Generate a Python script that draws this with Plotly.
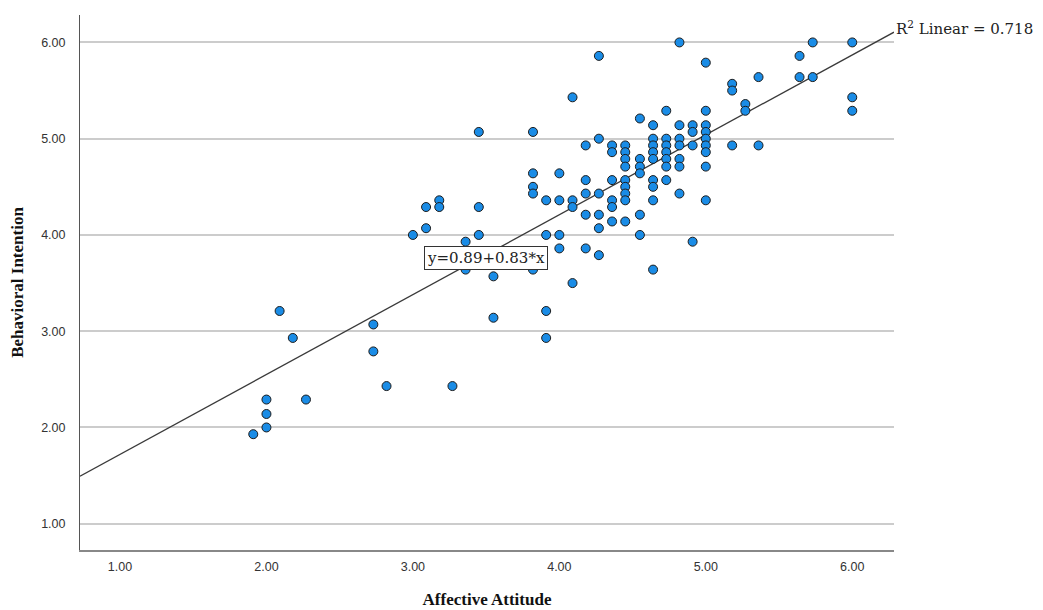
import plotly.graph_objects as go

# Affective Attitude (x) and Behavioral Intention (y)
affective = [
    1.91,
    2.00, 2.00, 2.00,
    2.09, 2.18, 2.27,
    2.73, 2.73, 2.82,
    3.00, 3.09, 3.09, 3.18, 3.18, 3.27,
    3.36, 3.36,
    3.45, 3.45, 3.45,
    3.55, 3.55,
    3.82, 3.82, 3.82, 3.82, 3.82,
    3.91, 3.91, 3.91, 3.91,
    4.00, 4.00, 4.00, 4.00,
    4.09, 4.09, 4.09, 4.09,
    4.18, 4.18, 4.18, 4.18, 4.18,
    4.27, 4.27, 4.27, 4.27, 4.27, 4.27,
    4.36, 4.36, 4.36, 4.36, 4.36, 4.36,
    4.45, 4.45, 4.45, 4.45, 4.45, 4.45, 4.45, 4.45, 4.45,
    4.55, 4.55, 4.55, 4.55, 4.55, 4.55,
    4.64, 4.64, 4.64, 4.64, 4.64, 4.64, 4.64, 4.64, 4.64,
    4.73, 4.73, 4.73, 4.73, 4.73, 4.73, 4.73,
    4.82, 4.82, 4.82, 4.82, 4.82, 4.82, 4.82,
    4.91, 4.91, 4.91, 4.91,
    5.00, 5.00, 5.00, 5.00, 5.00, 5.00, 5.00, 5.00, 5.00,
    5.18, 5.18, 5.18,
    5.27, 5.27,
    5.36, 5.36,
    5.64, 5.64,
    5.73, 5.73,
    6.00, 6.00, 6.00,
]
behavioral = [
    1.93,
    2.00, 2.14, 2.29,
    3.21, 2.93, 2.29,
    3.07, 2.79, 2.43,
    4.00, 4.29, 4.07, 4.36, 4.29, 2.43,
    3.93, 3.64,
    5.07, 4.29, 4.00,
    3.57, 3.14,
    5.07, 4.64, 4.50, 4.43, 3.64,
    4.36, 4.00, 3.21, 2.93,
    4.64, 4.36, 4.00, 3.86,
    5.43, 4.36, 4.29, 3.50,
    4.93, 4.57, 4.43, 4.21, 3.86,
    5.86, 5.00, 4.43, 4.21, 4.07, 3.79,
    4.93, 4.86, 4.57, 4.36, 4.29, 4.14,
    4.93, 4.86, 4.79, 4.71, 4.57, 4.50, 4.43, 4.36, 4.14,
    5.21, 4.79, 4.71, 4.64, 4.21, 4.00,
    5.14, 5.00, 4.93, 4.86, 4.79, 4.57, 4.50, 4.36, 3.64,
    5.29, 5.00, 4.93, 4.86, 4.79, 4.71, 4.57,
    6.00, 5.14, 5.00, 4.93, 4.79, 4.71, 4.43,
    5.14, 5.07, 4.93, 3.93,
    5.79, 5.29, 5.14, 5.07, 5.00, 4.93, 4.86, 4.71, 4.36,
    5.57, 5.50, 4.93,
    5.36, 5.29,
    5.64, 4.93,
    5.86, 5.64,
    6.00, 5.64,
    6.00, 5.43, 5.29,
]

intercept = 0.89
slope = 0.83
r_squared = 0.718
tick_values = [1, 2, 3, 4, 5, 6]
tick_labels = ["1.00", "2.00", "3.00", "4.00", "5.00", "6.00"]
axis_range = [0.727, 6.285]

fit_x = axis_range
fit_y = [intercept + slope * v for v in fit_x]

fig = go.Figure()
fig.add_trace(go.Scatter(
    x=fit_x, y=fit_y, mode="lines",
    line=dict(color="#3a3a3a", width=1.3),
    hoverinfo="skip", showlegend=False,
))
fig.add_trace(go.Scatter(
    x=affective, y=behavioral, mode="markers",
    marker=dict(size=9, color="#1a8ce6", line=dict(color="#1c1c1c", width=1)),
    showlegend=False,
))

fig.add_annotation(
    x=3.5, y=3.765, xref="x", yref="y",
    text="y=0.89+0.83*x", showarrow=False,
    font=dict(family="DejaVu Serif", size=15, color="#222222"),
    bgcolor="white", bordercolor="#333333", borderwidth=1, borderpad=2,
)
fig.add_annotation(
    x=1.0, y=fit_y[1], xref="paper", yref="y",
    xanchor="left", yanchor="middle", xshift=0, yshift=4,
    text=f"R<sup>2</sup> Linear = {r_squared}", showarrow=False,
    font=dict(family="DejaVu Serif", size=15, color="#222222"),
)

fig.update_layout(
    width=1035, height=602,
    margin=dict(l=72, r=149, t=7, b=60),
    paper_bgcolor="white", plot_bgcolor="white",
    font=dict(family="Liberation Sans", size=12.5, color="#333333"),
)
fig.update_xaxes(
    range=axis_range, tickvals=tick_values, ticktext=tick_labels,
    showgrid=False, zeroline=False, automargin=False,
    showline=True, linecolor="#888888", linewidth=2,
    ticks="", ticklabelstandoff=4,
    title=dict(text="Affective Attitude", standoff=20,
               font=dict(family="Liberation Serif", size=17, color="#111111", weight="bold")),
)
fig.update_yaxes(
    range=axis_range, tickvals=tick_values, ticktext=tick_labels,
    showgrid=True, gridcolor="#cccccc", gridwidth=1.5, zeroline=False, automargin=False,
    showline=True, linecolor="#555555", linewidth=1,
    ticks="", ticklabelstandoff=11,
    title=dict(text="Behavioral Intention", standoff=16,
               font=dict(family="Liberation Serif", size=17, color="#111111", weight="bold")),
)

fig.write_html("out.html")
